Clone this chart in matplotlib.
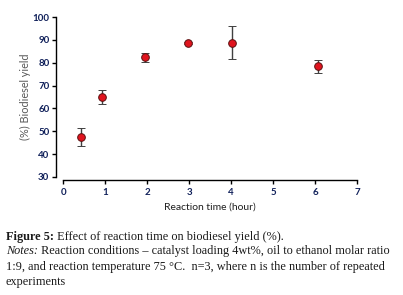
import matplotlib
matplotlib.use('Agg')
import matplotlib.pyplot as plt

# reaction time (hour), biodiesel yield (%) and error (+/-)
time_h = [0.42, 0.93, 1.95, 2.98, 4.02, 6.07]
yield_pct = [47.6, 65.0, 82.4, 88.6, 88.7, 78.4]
yield_err = [4.0, 3.0, 2.0, 0.5, 7.2, 3.0]

x_ticks = [0, 1, 2, 3, 4, 5, 6, 7]
y_ticks = [30, 40, 50, 60, 70, 80, 90, 100]

caption_bold = 'Figure 5:'
caption_rest = ' Effect of reaction time on biodiesel yield (%).'
notes_head = 'Notes:'
notes_lines = [' Reaction conditions \u2013 catalyst loading 4wt%, oil to ethanol molar ratio',
               '1:9, and reaction temperature 75 \u00b0C.  n=3, where n is the number of repeated',
               'experiments']

fig = plt.figure(figsize=(4.03, 2.95), dpi=100)
ax = fig.add_axes([0.157, 0.4, 0.729, 0.542])

ax.errorbar(time_h, yield_pct, yerr=yield_err, fmt='o', color='#404040',
            ecolor='#404040', elinewidth=1.0, capsize=3, capthick=1.0,
            markerfacecolor='#e0141e', markeredgecolor='#5a1010',
            markeredgewidth=0.7, markersize=5.5, zorder=3)

ax.set_xlim(0, 7)
ax.set_ylim(30, 100)
ax.set_xticks(x_ticks)
ax.set_yticks(y_ticks)

for s in ['top', 'right']:
    ax.spines[s].set_visible(False)
ax.spines['left'].set_position(('outward', 5))
ax.spines['bottom'].set_position(('outward', 2.2))
ax.spines['left'].set_linewidth(1.0)
ax.spines['bottom'].set_linewidth(1.0)
ax.tick_params(direction='out', length=3, width=1.0,
               labelsize=7, labelcolor='#10205a')
ax.tick_params(axis='y', pad=2)
ax.tick_params(axis='x', pad=3)
for lab in ax.get_xticklabels() + ax.get_yticklabels():
    lab.set_fontfamily('Lato')
    lab.set_fontweight('bold')

ax.set_xlabel('Reaction time (hour)', family='Lato', fontsize=7.5,
              color='#202020', labelpad=4)
ax.set_ylabel('(%) Biodiesel yield', family='Lato', fontsize=7.8,
              color='#595959', labelpad=1)

# caption below the chart, bold label followed by regular text
renderer = fig.canvas.get_renderer()
W = fig.get_figwidth() * fig.dpi
H = fig.get_figheight() * fig.dpi
x0 = 6
fs = 8.8
rows = [(caption_bold, caption_rest, 'bold', 'normal', 237),
        (notes_head, notes_lines[0], 'normal', 'italic', 251)]
for head, rest, hw, hs, ypx in rows:
    t = fig.text(x0 / W, 1 - ypx / H, head, family='Liberation Serif',
                 fontsize=fs, fontweight=hw, style=hs, va='center', color='#1a1a1a')
    bb = t.get_window_extent(renderer=renderer)
    fig.text(bb.x1 / W, 1 - ypx / H, rest, family='Liberation Serif',
             fontsize=fs, va='center', color='#1a1a1a')
fig.text(x0 / W, 1 - 267 / H, notes_lines[1], family='Liberation Serif',
         fontsize=fs, va='center', color='#1a1a1a')
fig.text(x0 / W, 1 - 282 / H, notes_lines[2], family='Liberation Serif',
         fontsize=fs, va='center', color='#1a1a1a')

fig.savefig('out.png', dpi=100)
plt.close(fig)
